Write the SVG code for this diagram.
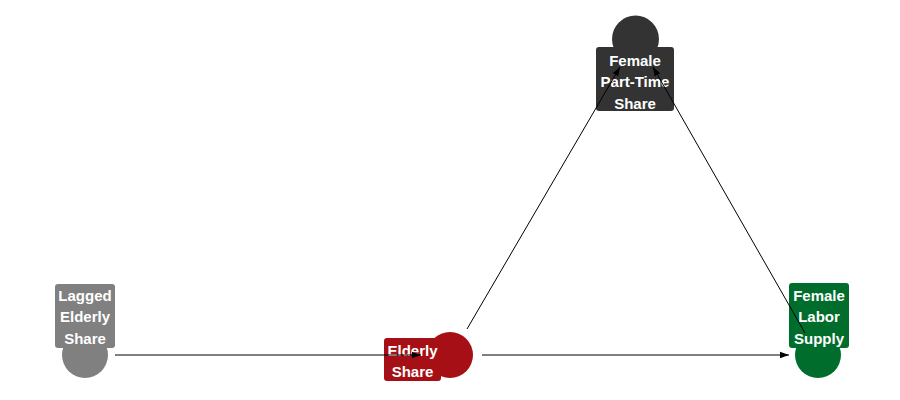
<svg xmlns="http://www.w3.org/2000/svg" width="900" height="400" viewBox="0 0 900 400">
<style>
.lbl{font-family:"Liberation Sans",Arial,sans-serif;font-weight:bold;font-size:15px;fill:#ffffff;text-anchor:middle}
.edge{stroke:#000;stroke-width:1;fill:none;marker-end:url(#arr)}
</style>
<defs>
<marker id="arr" markerUnits="userSpaceOnUse" markerWidth="10" markerHeight="8" refX="9" refY="4" orient="auto">
<path d="M0,0.8 L9,4 L0,7.2 Z" fill="#000"/>
</marker>
</defs>
<rect width="900" height="400" fill="#ffffff"/>
<g id="lagged">
<circle cx="85" cy="355" r="23" fill="#808080"/>
<rect x="55" y="284" width="60" height="64" rx="3" fill="#808080"/>
<text class="lbl" x="85" y="300.5">Lagged</text>
<text class="lbl" x="85" y="322">Elderly</text>
<text class="lbl" x="85" y="343.5">Share</text>
</g>
<g id="elderly">
<circle cx="450" cy="355" r="23" fill="#a50f15"/>
<rect x="384" y="338" width="57" height="43" rx="3" fill="#a50f15"/>
<text class="lbl" x="412.5" y="355.5">Elderly</text>
<text class="lbl" x="412.5" y="377">Share</text>
</g>
<g id="parttime">
<circle cx="635.5" cy="39" r="23.5" fill="#333333"/>
<rect x="596" y="47" width="78" height="64" rx="3" fill="#333333"/>
<text class="lbl" x="635" y="65.5">Female</text>
<text class="lbl" x="635" y="87">Part-Time</text>
<text class="lbl" x="635" y="108.5">Share</text>
</g>
<g id="laborsupply">
<circle cx="818" cy="355" r="23" fill="#006d2c"/>
<rect x="789" y="283" width="60" height="65" rx="3" fill="#006d2c"/>
<text class="lbl" x="819" y="300.5">Female</text>
<text class="lbl" x="819" y="322">Labor</text>
<text class="lbl" x="819" y="343.5">Supply</text>
</g>
<g id="connectors">
<line class="edge" x1="115" y1="355" x2="421" y2="355"/>
<line class="edge" x1="482" y1="355" x2="789" y2="355"/>
<line class="edge" x1="467" y1="329" x2="620" y2="67"/>
<line class="edge" x1="805" y1="333" x2="653" y2="67"/>
</g>
</svg>
